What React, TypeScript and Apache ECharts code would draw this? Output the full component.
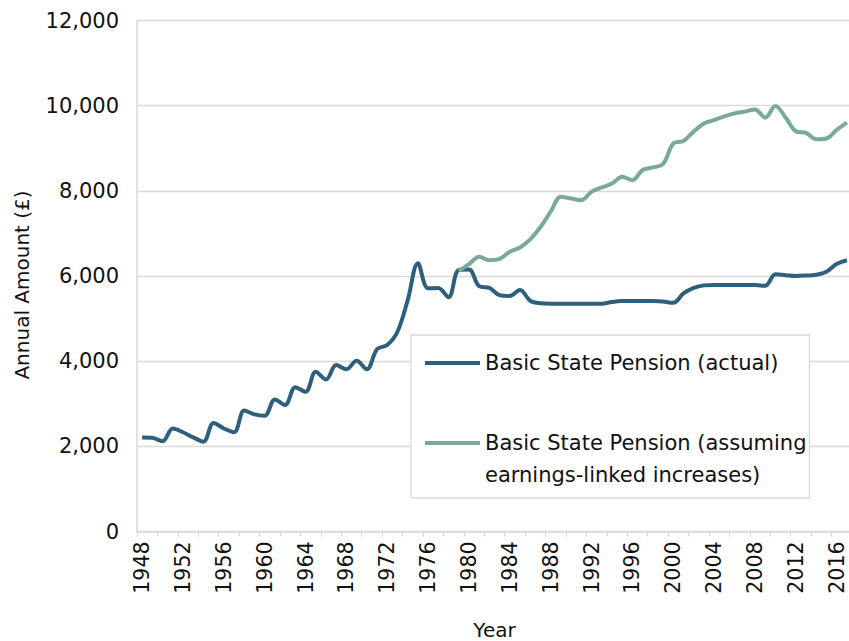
import React, { useEffect, useRef } from "react";
import * as echarts from "echarts";

const years: string[] = [
  "1948","1949","1950","1951","1952","1953","1954","1955","1956","1957",
  "1958","1959","1960","1961","1962","1963","1964","1965","1966","1967",
  "1968","1969","1970","1971","1972","1973","1974","1975","1976","1977",
  "1978","1979","1980","1981","1982","1983","1984","1985","1986","1987",
  "1988","1989","1990","1991","1992","1993","1994","1995","1996","1997",
  "1998","1999","2000","2001","2002","2003","2004","2005","2006","2007",
  "2008","2009","2010","2011","2012","2013","2014","2015","2016","2017",
];

const actual: number[] = [
  2210, 2200, 2120, 2420, 2330, 2210, 2110, 2550, 2420, 2330,
  2840, 2750, 2720, 3100, 2970, 3390, 3280, 3750, 3570, 3910,
  3810, 4010, 3810, 4280, 4380, 4690, 5430, 6300, 5710, 5720,
  5500, 6140, 6150, 5760, 5720, 5550, 5530, 5670, 5420, 5360,
  5350, 5350, 5350, 5350, 5350, 5350, 5390, 5410, 5410, 5410,
  5410, 5400, 5370, 5590, 5720, 5780, 5790, 5790, 5790, 5790,
  5790, 5770, 6040, 6020, 6000, 6010, 6030, 6100, 6280, 6370,
];

// earnings-linked series starts in 1979
const earningsStartYear = "1979";
const earningsLinked: number[] = [
  6120, 6280, 6450, 6370, 6400, 6570, 6670, 6860, 7150, 7510,
  7860, 7820, 7780, 7980, 8080, 8170, 8330, 8250, 8490, 8550,
  8630, 9110, 9170, 9390, 9580, 9660, 9750, 9820, 9860, 9910,
  9720, 9990, 9720, 9400, 9360, 9210, 9230, 9430, 9600,
];

const seriesNames = [
  "Basic State Pension (actual)",
  "Basic State Pension (assuming earnings-linked increases)",
];

const yTicks = { min: 0, max: 12000, interval: 2000 };

const FONT = "DejaVu Sans";
const BLUE = "#2e5f7d";
const GREEN = "#78a999";
const GRID = "#d9d9d9";
const TEXT = "#111111";

export default function App() {
  const ref = useRef<HTMLDivElement>(null);

  useEffect(() => {
    if (!ref.current) return;
    const chart = echarts.init(ref.current, null, { renderer: "svg" });
    const startIdx = years.indexOf(earningsStartYear);
    const greenData: (number | null)[] = years.map((_, i) =>
      i < startIdx ? null : earningsLinked[i - startIdx]
    );

    chart.setOption({
      animation: false,
      backgroundColor: "#ffffff",
      textStyle: { fontFamily: FONT },
      grid: {
        left: 137,
        top: 20.5,
        width: 715,
        bottom: 109.5,
        containLabel: false,
        outerBoundsMode: "none",
      },
      legend: {
        left: 411,
        top: 335,
        orient: "vertical",
        selectedMode: false,
        icon: "rect",
        itemWidth: 55,
        itemHeight: 4,
        itemGap: 16,
        padding: [12, 3, 7, 14],
        borderColor: GRID,
        borderWidth: 1.3,
        borderRadius: 0,
        backgroundColor: "#ffffff",
        textStyle: { fontFamily: FONT, fontSize: 21, color: TEXT, lineHeight: 32 },
        formatter: (name: string) =>
          name.indexOf("(assuming ") >= 0
            ? " \n" + name.replace("(assuming ", "(assuming\n")
            : name,
        data: [{ name: seriesNames[0] }, { name: seriesNames[1] }],
      },
      xAxis: {
        type: "category",
        data: years,
        boundaryGap: true,
        name: "Year",
        nameLocation: "middle",
        nameGap: 88,
        nameTextStyle: { fontFamily: FONT, fontSize: 20, color: TEXT },
        axisLine: { show: true, lineStyle: { color: GRID, width: 1.5 } },
        axisTick: { show: true, interval: 1, length: 5, lineStyle: { color: GRID, width: 1.3 } },
        axisLabel: {
          interval: 3,
          rotate: 90,
          margin: 10,
          padding: [0, 0, 8, 0],
          fontFamily: FONT,
          fontSize: 20.5,
          color: TEXT,
        },
        splitLine: { show: false },
      },
      yAxis: {
        type: "value",
        min: yTicks.min,
        max: yTicks.max,
        interval: yTicks.interval,
        name: "Annual Amount (£)",
        nameLocation: "middle",
        nameGap: 105,
        nameTextStyle: { fontFamily: FONT, fontSize: 20, color: TEXT, padding: [0, 18, 0, 0] },
        axisLine: { show: true, lineStyle: { color: GRID, width: 1.5 } },
        axisTick: { show: false },
        axisLabel: {
          margin: 18,
          fontFamily: FONT,
          fontSize: 21,
          color: TEXT,
          formatter: (v: number) => v.toLocaleString("en-US"),
        },
        splitLine: { show: true, lineStyle: { color: GRID, width: 1.3 } },
      },
      series: [
        {
          name: seriesNames[0],
          type: "line",
          data: actual,
          smooth: 0.35,
          showSymbol: false,
          symbol: "none",
          itemStyle: { color: BLUE },
          lineStyle: { color: BLUE, width: 4 },
        },
        {
          name: seriesNames[1],
          type: "line",
          data: greenData,
          smooth: 0.35,
          showSymbol: false,
          symbol: "none",
          connectNulls: false,
          itemStyle: { color: GREEN },
          lineStyle: { color: GREEN, width: 4 },
        },
      ],
    });

    return () => chart.dispose();
  }, []);

  return (
    <div
      ref={ref}
      style={{ position: "fixed", left: 0, top: 0, width: 849, height: 641 }}
    />
  );
}
